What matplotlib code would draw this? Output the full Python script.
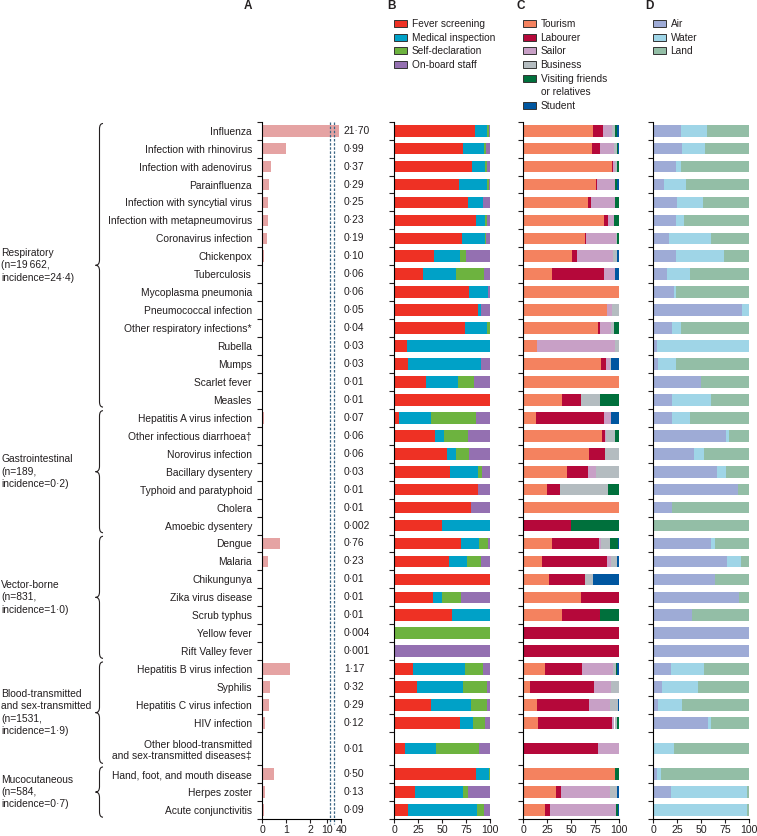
import numpy as np
import matplotlib
matplotlib.use("Agg")
import matplotlib.pyplot as plt
from matplotlib.patches import Patch, PathPatch
from matplotlib.path import Path
from matplotlib.transforms import blended_transform_factory

plt.rcParams['font.family'] = ['Liberation Sans', 'DejaVu Sans']
plt.rcParams['text.color'] = '#231f20'
plt.rcParams['xtick.color'] = '#231f20'
plt.rcParams['ytick.color'] = '#231f20'

# ---------------- data ----------------
diseases = [
    "Influenza", "Infection with rhinovirus", "Infection with adenovirus", "Parainfluenza",
    "Infection with syncytial virus", "Infection with metapneumovirus", "Coronavirus infection",
    "Chickenpox", "Tuberculosis", "Mycoplasma pneumonia", "Pneumococcal infection",
    "Other respiratory infections*", "Rubella", "Mumps", "Scarlet fever", "Measles",
    "Hepatitis A virus infection", "Other infectious diarrhoea\u2020", "Norovirus infection",
    "Bacillary dysentery", "Typhoid and paratyphoid", "Cholera", "Amoebic dysentery",
    "Dengue", "Malaria", "Chikungunya", "Zika virus disease", "Scrub typhus", "Yellow fever",
    "Rift Valley fever",
    "Hepatitis B virus infection", "Syphilis", "Hepatitis C virus infection", "HIV infection",
    "Other blood-transmitted\nand sex-transmitted diseases\u2021",
    "Hand, foot, and mouth disease", "Herpes zoster", "Acute conjunctivitis",
]
incidence = [21.70, 0.99, 0.37, 0.29, 0.25, 0.23, 0.19, 0.10, 0.06, 0.06, 0.05, 0.04, 0.03, 0.03, 0.01, 0.01,
             0.07, 0.06, 0.06, 0.03, 0.01, 0.01, 0.002,
             0.76, 0.23, 0.01, 0.01, 0.01, 0.004, 0.001,
             1.17, 0.32, 0.29, 0.12, 0.01,
             0.50, 0.13, 0.09]

group_labels = [
    "Respiratory\n(n=19\u2009662,\nincidence=24\u00b74)",
    "Gastrointestinal\n(n=189,\nincidence=0\u00b72)",
    "Vector-borne\n(n=831,\nincidence=1\u00b70)",
    "Blood-transmitted\nand sex-transmitted\n(n=1531,\nincidence=1\u00b79)",
    "Mucocutaneous\n(n=584,\nincidence=0\u00b77)",
]
group_sizes = [16, 7, 7, 5, 3]

# Panel B: detection method (%)
fever_screening = [84, 72, 81, 68, 77, 85, 71, 41, 30, 78, 87, 74, 13.5, 14, 33, 100,
                   5, 43, 55.5, 58, 87, 80, 50,
                   70, 57, 100, 40, 60, 0, 0,
                   19.5, 24, 38, 68.5, 11,
                   85, 22, 14.5]
medical_inspection = [13, 22, 14, 29, 16, 10, 24, 27.5, 34, 19.5, 4, 23, 86.5, 76.5, 33.5, 0,
                      33, 8.5, 8.5, 29.5, 0, 0, 50,
                      19, 18.5, 0, 10, 40, 0, 0,
                      54.5, 48, 42, 14, 33,
                      14, 50, 72]
self_declaration = [1.5, 1.5, 1.5, 2, 0, 2, 1, 6.5, 30, 0, 0, 3, 0, 0, 17, 0,
                    47, 25, 14.5, 4, 0, 0, 0,
                    9, 15.5, 0, 20, 0, 100, 0,
                    18.5, 25, 16.5, 12.5, 44.5,
                    0.5, 5, 7.5]
onboard_staff = [1.5, 4.5, 3.5, 1, 7, 3, 4, 25, 6, 2.5, 9, 0, 0, 9.5, 16.5, 0,
                 15, 23.5, 21.5, 8.5, 13, 20, 0,
                 2, 9, 0, 30, 0, 0, 100,
                 7.5, 3, 3.5, 5, 11.5,
                 0.5, 23, 6]

# Panel C: purpose of travel (%)
tourism = [72.5, 71.5, 92.5, 76, 67.5, 84.5, 64.5, 50.5, 30, 100, 87, 77.5, 14, 81, 100, 40,
           13, 81.5, 68.5, 46, 25, 100, 0,
           29.5, 19, 27, 60, 40, 0, 0,
           23, 6.5, 14.5, 15, 0,
           96, 34, 22.5]
labourer = [10.5, 8.5, 1, 1, 3.5, 4, 0.5, 5, 54, 0, 0, 2.5, 0, 5, 0, 20,
            71, 4, 16.5, 21, 13, 0, 50,
            49.5, 68, 37, 40, 40, 100, 100,
            38.5, 67, 53.5, 77.5, 78,
            0, 5, 5.5]
sailor = [9, 14, 2, 18.5, 25, 5.5, 31.5, 37.5, 12, 0, 5, 11.5, 81.5, 4, 0, 0,
          7.5, 0.5, 0, 8.5, 0, 0, 0,
          2, 4, 0, 0, 0, 0, 0,
          32, 18, 22.5, 2.5, 22,
          0, 51.5, 69]
business = [4, 3.5, 1.7, 0, 0, 0.5, 1.5, 4.5, 0, 0, 8, 2.5, 4.5, 1, 0, 20,
            0, 10, 15, 24.5, 50, 0, 0,
            9.5, 7, 9, 0, 0, 0, 0,
            3.5, 8.5, 8, 3, 0,
            0, 7.5, 0]
visiting = [2, 1, 2.5, 2.5, 4, 5.5, 1.5, 0, 0, 0, 0, 6, 0, 0, 0, 20,
            0, 4, 0, 0, 12, 0, 50,
            8.5, 0, 0, 0, 20, 0, 0,
            1, 0, 0, 2, 0,
            4, 0, 1.5]
student = [2, 1.5, 0.3, 2, 0, 0, 0.5, 2.5, 4, 0, 0, 0, 0, 9, 0, 0,
           8.5, 0, 0, 0, 0, 0, 0,
           1, 2, 27, 0, 0, 0, 0,
           2, 0, 1.5, 0, 0,
           0, 2, 1.5]

# Panel D: port type (%)
air = [29, 30, 23.5, 11, 24.5, 23.5, 16.5, 23.5, 14, 22, 92.5, 19.5, 4, 4.5, 50, 20,
       20, 75.5, 42.5, 67, 88, 20, 0,
       60.5, 77, 64, 90, 40, 100, 100,
       19, 9, 5, 57, 0,
       4, 18.5, 0]
water = [27.5, 24, 5, 23, 27, 9, 44, 50.5, 24, 1.5, 7.5, 9, 96, 19, 0, 40,
         18.5, 3.5, 10.5, 8.5, 0, 0, 0,
         4, 14.5, 0, 0, 0, 0, 0,
         33.5, 38, 24.5, 3, 22,
         4, 79, 97.5]
land = [43.5, 46, 71.5, 66, 48.5, 67.5, 39.5, 26, 62, 76.5, 0, 71.5, 0, 76.5, 50, 40,
        61.5, 21, 47, 24.5, 12, 80, 100,
        35.5, 8.5, 36, 10, 60, 0, 0,
        47.5, 53, 70.5, 40, 78,
        92, 2.5, 2.5]

labels_B = ["Fever screening", "Medical inspection", "Self-declaration", "On-board staff"]
labels_C = ["Tourism", "Labourer", "Sailor", "Business", "Visiting friends", "or relatives", "Student"]
labels_D = ["Air", "Water", "Land"]

colors_B = ["#ee3124", "#00a1c7", "#6db33f", "#9470b1"]
colors_C = ["#f4825f", "#b5083a", "#c8a0c6", "#b4bcc0", "#00703c", "#0056a0"]
colors_D = ["#9eabd6", "#9fd5e7", "#93bea6"]
color_A = "#e5a3a3"

# ---------------- layout ----------------
W, H = 757, 836
fig = plt.figure(figsize=(W / 100, H / 100), dpi=100)
TOP, BOT = 121.7, 819.0


def axes_px(l, r):
    return fig.add_axes([l / W, 1 - BOT / H, (r - l) / W, (BOT - TOP) / H])


axA = axes_px(262, 341.2)
axB = axes_px(394.3, 490)
axC = axes_px(523.3, 619.3)
axD = axes_px(653.3, 749)

n = len(diseases)
heights = np.ones(n)
heights[34] = 1.85
edges = np.concatenate([[0], np.cumsum(heights)])
centers = edges[:-1] + heights / 2
total = edges[-1]
BAR_H = 0.65
FS = 7.4

for ax in (axA, axB, axC, axD):
    ax.set_ylim(total, 0)
    ax.spines['top'].set_visible(False)
    ax.spines['right'].set_visible(False)
    ax.spines['left'].set_linewidth(0.8)
    ax.spines['bottom'].set_linewidth(0.8)
    ax.set_yticks(edges, minor=True)
    ax.tick_params(axis='y', which='minor', length=3.5, width=0.8, direction='out')
    ax.tick_params(axis='x', which='major', length=3, width=0.8, pad=1.5, labelsize=7.6)

# ---- Panel A: broken axis via a piecewise function scale ----
B0 = 2.7


def fwd(x):
    x = np.asarray(x, dtype=float)
    mid = B0 + 0.02 * (x - B0) / (10 - B0)
    hi = B0 + 0.02 + 0.58 * np.clip((x - 10) / 30, 0, None) ** 0.2
    return np.where(x <= B0, x, np.where(x <= 10, mid, hi))


def inv(y):
    y = np.asarray(y, dtype=float)
    mid = B0 + (y - B0) * (10 - B0) / 0.02
    hi = 10 + 30 * np.clip((y - B0 - 0.02) / 0.58, 0, None) ** 5
    return np.where(y <= B0, y, np.where(y <= B0 + 0.02, mid, hi))


axA.set_xscale('function', functions=(fwd, inv))
axA.barh(centers, incidence, height=BAR_H, color=color_A, linewidth=0)
axA.set_xlim(0, 40)
axA.set_xticks([0, 1, 2, 10, 40])
axA.set_xticklabels(["0", "1", "2", "10", "40"])
axA.xaxis.set_minor_locator(matplotlib.ticker.NullLocator())
axA.set_yticks(centers)
axA.set_yticklabels(diseases, fontsize=FS)
axA.tick_params(axis='y', which='major', length=0, pad=7.2)

for xp in (330, 334):
    xf = (xp - 262) / (341.2 - 262)
    axA.plot([xf, xf], [1.0, -0.007], transform=axA.transAxes, clip_on=False,
             color="#3b6685", lw=0.9, ls=(0, (2, 1.3)))

tr_num = blended_transform_factory(fig.transFigure, axA.transData)
for y, v in zip(centers, incidence):
    s = (f"{v:.3f}" if v < 0.01 else f"{v:.2f}").replace(".", "\u00b7")
    axA.text(344 / W, y, s, transform=tr_num, ha='left', va='center', fontsize=FS)

# group labels + braces
starts = np.concatenate([[0], np.cumsum(group_sizes)[:-1]])
ends = np.cumsum(group_sizes)
for lab, s0, e0 in zip(group_labels, starts, ends):
    y0 = edges[s0] + 0.1
    y1 = edges[e0] - 0.1
    ym = (y0 + y1) / 2
    fig.text(1 / W, 0, lab, transform=tr_num, fontsize=FS, ha='left', va='center',
             linespacing=1.3).set_y(ym)
    xr, xm, xl = 103 / W, 99.5 / W, 95.5 / W
    c = 0.3
    verts = [(xr, y0), (xm, y0), (xm, y0 + c), (xm, ym - c), (xm, ym), (xl, ym),
             (xm, ym), (xm, ym + c), (xm, y1 - c), (xm, y1), (xr, y1)]
    codes = [Path.MOVETO, Path.CURVE3, Path.CURVE3, Path.LINETO, Path.CURVE3, Path.CURVE3,
             Path.CURVE3, Path.CURVE3, Path.LINETO, Path.CURVE3, Path.CURVE3]
    fig.add_artist(PathPatch(Path(verts, codes), transform=tr_num, fill=False,
                             lw=0.8, edgecolor='#231f20'))


# ---- Panels B, C, D ----
def stacked(ax, series, colors):
    left = np.zeros(n)
    for vals, col in zip(series, colors):
        vals = np.asarray(vals, dtype=float)
        ax.barh(centers, vals, left=left, height=BAR_H, color=col, linewidth=0)
        left = left + vals
    ax.set_xlim(0, 100)
    ax.set_xticks([0, 25, 50, 75, 100])
    ax.set_yticks([])


stacked(axB, [fever_screening, medical_inspection, self_declaration, onboard_staff], colors_B)
stacked(axC, [tourism, labourer, sailor, business, visiting, student], colors_C)
stacked(axD, [air, water, land], colors_D)


# ---- legends ----
def make_legend(x_px, labels, colors):
    handles = []
    for lab, col in zip(labels, colors):
        if col is None:
            handles.append(Patch(facecolor='none', edgecolor='none'))
        else:
            handles.append(Patch(facecolor=col, edgecolor='#333333', lw=0.7))
    fig.legend(handles, labels, loc='upper left', bbox_to_anchor=(x_px / W, 1 - 19.0 / H),
               frameon=False, fontsize=7.3, handlelength=1.25, handleheight=0.68,
               handletextpad=0.45, labelspacing=0.36, borderpad=0, borderaxespad=0)


make_legend(394.3, labels_B, colors_B)
make_legend(523.3, labels_C, colors_C[:5] + [None] + colors_C[5:])
make_legend(653.3, labels_D, colors_D)

for letter, xp in (("A", 248), ("B", 391), ("C", 521), ("D", 649)):
    fig.text(xp / W, 1 - 6 / H, letter, ha='center', va='center', fontsize=8.5, fontweight='bold')

fig.savefig("out.png", dpi=100)
